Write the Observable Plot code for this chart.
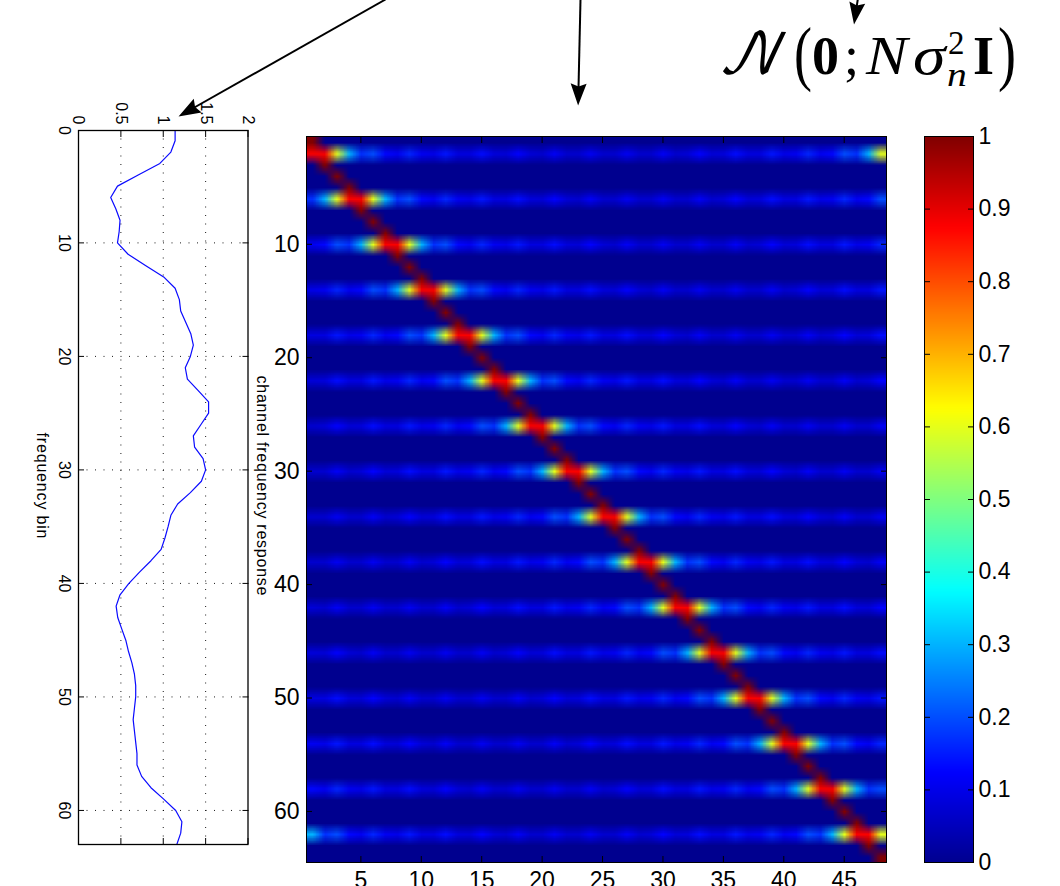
<!DOCTYPE html>
<html><head><meta charset="utf-8">
<script src="https://cdn.jsdelivr.net/npm/d3@7"></script>
<script src="https://cdn.jsdelivr.net/npm/@observablehq/plot@0.6"></script>
<style>
html,body{margin:0;padding:0;background:#fff}
#c{position:relative;width:1060px;height:886px;overflow:hidden}
#c>svg{position:absolute;left:0;top:0;background:transparent}
.f{position:absolute;line-height:1;white-space:nowrap;color:#000;font-family:"Liberation Serif","DejaVu Serif",serif;transform-origin:left center}
</style></head><body><div id="c"></div>
<script>
// channel frequency response, one value per frequency bin (0..63)
const responseBins = d3.range(64);
const responseValues = [1.14,1.14,1.09,0.96,0.71,0.46,0.38,0.44,0.49,0.48,0.46,0.585,0.79,1.005,1.14,1.19,
1.206,1.265,1.325,1.355,1.32,1.26,1.285,1.41,1.535,1.535,1.445,1.355,1.37,1.47,1.5,1.45,
1.32,1.17,1.09,1.057,1.02,0.975,0.855,0.72,0.595,0.49,0.444,0.463,0.51,0.558,0.59,0.63,
0.66,0.675,0.675,0.66,0.645,0.66,0.675,0.69,0.69,0.745,0.855,1.005,1.147,1.22,1.206,1.16];
// heat map: rows carrying a pilot, their centre column and the sidelobe profile by distance from centre
const pilotRows = [2,6,10,14,18,22,26,30,34,38,42,46,50,54,58,62];
const pilotCentres = [1.5,4.5,7.5,10.5,13.5,16.5,19.5,22.5,25.5,28.5,31.5,34.5,37.5,40.5,43.5,46.5];
const pilotProfile = [0.88,0.6,0.3,0.17,0.2,0.13,0.11,0.16,0.11,0.1,0.145,0.09,0.09,0.135,0.085,0.08,0.125,0.08,0.07,0.115,0.07,0.07,0.11,0.07];
const diagonalRows = [1,3,4,5,7,8,9,11,12,13,15,16,17,19,20,21,23,24,25,27,28,29,31,32,33,35,36,37,39,40,41,43,44,45,47,48,49,51,52,53,55,56,57,59,60,61,63,64];
const diagonalCols = [1,2,3,4,5,6,7,8,9,10,11,12,13,14,15,16,17,18,19,20,21,22,23,24,25,26,27,28,29,30,31,32,33,34,35,36,37,38,39,40,41,42,43,44,45,46,47,48];
const nCols = 48, nRows = 64;
const jetStops = [0,0.125,0.375,0.625,0.875,1];
const jetColors = ["#00008f","#0000ff","#00ffff","#ffff00","#ff0000","#800000"];
const heatTicksX = [5,10,15,20,25,30,35,40,45];
const heatTicksY = [10,20,30,40,50,60];
const barTicks = [0,0.1,0.2,0.3,0.4,0.5,0.6,0.7,0.8,0.9,1];
const respTicksX = [0,0.5,1,1.5,2];
const respTicksY = [0.1,10,20,30,40,50,60];
// annotation arrows [x1,y1,x2,y2]
const arrows = [[385,-1,185,112],[580,-1,577.8,97],[858,-6,854.7,16]];

const W=1060,H=886;
const matrix = new Float64Array(nCols*nRows);
pilotRows.forEach((r,k)=>{
  for(let c=1;c<=nCols;c++){
    let d=Math.abs(c-pilotCentres[k]); d=Math.min(d,nCols-d);
    matrix[(r-1)*nCols+c-1]=pilotProfile[Math.floor(d)];
  }
});
diagonalRows.forEach((r,k)=>{matrix[(r-1)*nCols+diagonalCols[k]-1]=1;});
const barValues = d3.range(128).map(i=>1-(i+0.5)/128);
const c=document.getElementById("c");
const jet={type:"linear",domain:jetStops,range:jetColors,interpolate:"rgb",clamp:true};
const sans='"Liberation Sans",Arial,sans-serif';

// left: channel frequency response, rotated axes
const resp=Plot.plot({width:W,height:H,marginLeft:78,marginRight:W-247.5,marginTop:130,marginBottom:H-844,
  style:{fontFamily:sans,fontSize:"16px",color:"#000",background:"transparent",overflow:"visible"},
  x:{domain:[0,2]},y:{domain:[0.1,63],range:[130,844]},
  marks:[
    Plot.gridX([0.5,1,1.5],{stroke:"#000",strokeOpacity:0.9,strokeDasharray:"1 7.5"}),
    Plot.gridY(respTicksY.slice(1),{stroke:"#000",strokeOpacity:0.9,strokeDasharray:"1 7.5"}),
    Plot.line(responseBins,{x:i=>responseValues[i],y:i=>i===0?0.1:i,stroke:"#0a0aff",strokeWidth:1.2,curve:"linear"}),
    Plot.axisX({anchor:"top",ticks:respTicksX,tickSize:-6,tickPadding:12,tickRotate:90,label:null,tickFormat:d=>d}),
    Plot.axisX({anchor:"bottom",ticks:respTicksX,tickSize:-6,label:null,tickFormat:()=>""}),
    Plot.axisY({anchor:"left",ticks:respTicksY,tickSize:-6,tickPadding:14,tickRotate:90,label:null,tickFormat:d=>Math.round(d)}),
    Plot.axisY({anchor:"right",ticks:respTicksY,tickSize:-6,label:null,tickFormat:()=>""}),
    Plot.frame({stroke:"#000",strokeWidth:1.3}),
    Plot.text(["frequency bin"],{frameAnchor:"left",dx:-36,dy:-2,rotate:90,fontSize:16,textAnchor:"middle"}),
    Plot.text(["channel frequency response"],{frameAnchor:"right",dx:14,dy:-2,rotate:90,fontSize:16,textAnchor:"middle"})
  ]});
c.appendChild(resp);
d3.select(resp).selectAll("text").each(function(){
  const t=this.textContent;
  if(t==="frequency bin") this.setAttribute("textLength",106);
  if(t==="channel frequency response") this.setAttribute("textLength",220);
});

// middle: heat map
const heat=Plot.plot({width:W,height:H,marginLeft:306,marginRight:W-886,marginTop:136,marginBottom:H-862,
  style:{fontFamily:sans,fontSize:"23px",color:"#000",background:"transparent",overflow:"visible"},
  x:{domain:[0.5,48.5]},y:{domain:[0.5,64.5],range:[136,862]},color:jet,
  marks:[
    Plot.raster(matrix,{width:nCols,height:nRows,x1:0.5,x2:48.5,y1:0.5,y2:64.5}),
    Plot.axisX({anchor:"bottom",ticks:heatTicksX,tickSize:-6,tickPadding:15,label:null,tickFormat:d=>d}),
    Plot.axisX({anchor:"top",ticks:heatTicksX,tickSize:-6,label:null,tickFormat:()=>""}),
    Plot.axisY({anchor:"left",ticks:heatTicksY,tickSize:-6,tickPadding:13,label:null,tickFormat:d=>d}),
    Plot.axisY({anchor:"right",ticks:heatTicksY,tickSize:-6,label:null,tickFormat:()=>""}),
    Plot.frame({stroke:"#000",strokeWidth:1})
  ]});
c.appendChild(heat);

// right: colour bar
const bar=Plot.plot({width:W,height:H,marginLeft:924,marginRight:W-973,marginTop:136,marginBottom:H-862,
  style:{fontFamily:sans,fontSize:"23px",color:"#000",background:"transparent",overflow:"visible"},
  x:{domain:[0,1],axis:null},y:{domain:[0,1]},color:jet,
  marks:[
    Plot.raster(barValues,{width:1,height:barValues.length,x1:0,x2:1,y1:1,y2:0}),
    Plot.axisY({anchor:"right",ticks:barTicks,tickSize:-6,tickPadding:11,label:null,tickFormat:d=>d}),
    Plot.axisY({anchor:"left",ticks:barTicks,tickSize:-6,label:null,tickFormat:()=>""}),
    Plot.frame({stroke:"#000",strokeWidth:1})
  ]});
c.appendChild(bar);

// annotation arrows
function head(color,context){
  const ns="http://www.w3.org/2000/svg";
  const m=context.document.createElementNS(ns,"marker");
  m.setAttribute("viewBox","-16 -10 26 20");m.setAttribute("markerWidth",26);m.setAttribute("markerHeight",20);
  m.setAttribute("refX",0);m.setAttribute("refY",0);m.setAttribute("orient","auto");m.setAttribute("markerUnits","userSpaceOnUse");
  const p=context.document.createElementNS(ns,"path");
  p.setAttribute("d","M8,0L-14,-8L-11,0L-14,8Z");p.setAttribute("fill","#000");p.setAttribute("stroke","none");
  m.appendChild(p);return m;
}
const over=Plot.plot({width:W,height:H,margin:0,x:{domain:[0,W],range:[0,W],axis:null},y:{domain:[0,H],range:[0,H],axis:null},
  style:{background:"transparent",overflow:"visible"},
  marks:[Plot.link(arrows,{x1:d=>d[0],y1:d=>d[1],x2:d=>d[2],y2:d=>d[3],stroke:"#000",strokeWidth:2,markerEnd:head})]});
c.appendChild(over);

// formula
const pieces=[
 ["𝒩",718,29,56,"font-family:'DejaVu Math TeX Gyre','Noto Sans Math','DejaVu Serif',serif;font-style:italic"],
 ["(",794,17,72,"transform:scaleX(.75)"],
 ["0",812,29,54,"font-weight:bold"],
 [";",844,29,54,""],
 ["N",866,29,54,"font-style:italic;transform:scaleX(1.15)"],
 ["σ",913,29,54,"font-style:italic;transform:scaleX(1.22)"],
 ["2",948,27,33,""],
 ["n",947,59,33,"font-style:italic;transform:scaleX(1.2)"],
 ["I",973,29,54,"font-weight:bold"],
 [")",998,17,72,"transform:scaleX(.75)"]
];
for(const [t,x,y,s,st] of pieces){
  const e=document.createElement("span");e.className="f";e.textContent=t;
  e.style.cssText=`left:${x}px;top:${y}px;font-size:${s}px;${st}`;c.appendChild(e);
}
</script></body></html>
